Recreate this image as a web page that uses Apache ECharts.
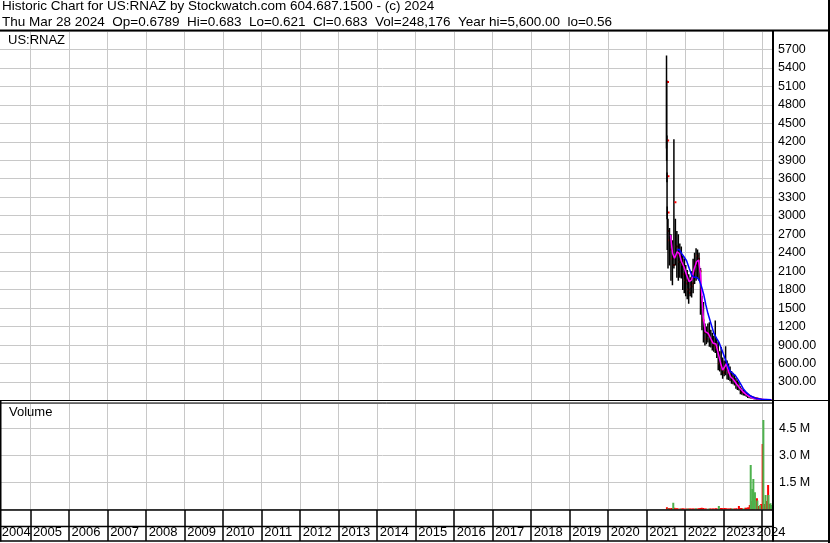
<!DOCTYPE html>
<html><head><meta charset="utf-8">
<script src="https://cdn.jsdelivr.net/npm/echarts@6/dist/echarts.min.js"></script>
<style>html,body{margin:0;padding:0;background:#fff;overflow:hidden;width:830px;height:543px;position:relative}
#c{position:absolute;left:-8px;top:0;width:838px;height:543px}</style>
</head><body><div id="c"></div>
<script>
// ---------- texts ----------
const titleLine1 = 'Historic Chart for US:RNAZ by Stockwatch.com 604.687.1500 - (c) 2024';
const titleLine2 = 'Thu Mar 28 2024  Op=0.6789  Hi=0.683  Lo=0.621  Cl=0.683  Vol=248,176  Year hi=5,600.00  lo=0.56';
const symbolLabel = 'US:RNAZ';
const volumeLabel = 'Volume';
const yearLabels = [2004,2005,2006,2007,2008,2009,2010,2011,2012,2013,2014,2015,2016,2017,2018,2019,2020,2021,2022,2023,2024];

// ---------- price bars (high / low / close) ----------
const priceDates = ['2021-07-08','2021-07-09','2021-07-12','2021-07-13','2021-07-15','2021-07-22','2021-08-05','2021-08-19','2021-09-02','2021-09-16','2021-09-30','2021-10-14','2021-10-28','2021-11-11','2021-11-25','2021-12-09','2021-12-23','2022-01-06','2022-01-20','2022-02-03','2022-02-17','2022-03-03','2022-03-17','2022-03-31','2022-04-14','2022-04-28','2022-05-12','2022-05-26','2022-06-09','2022-06-23','2022-07-07','2022-07-21','2022-08-04','2022-08-18','2022-09-01','2022-09-15','2022-09-29','2022-10-13','2022-10-27','2022-11-10','2022-11-24','2022-12-08','2022-12-22','2023-01-05','2023-01-19','2023-02-02','2023-02-16','2023-03-02','2023-03-16','2023-03-30','2023-04-13','2023-04-27','2023-05-11','2023-05-25','2023-06-08','2023-06-22','2023-07-06','2023-07-20','2023-08-03','2023-08-17','2023-08-31','2023-09-14','2023-09-28','2023-10-12','2023-10-26','2023-11-09','2023-11-23','2023-12-07','2023-12-21','2024-01-04','2024-01-18','2024-02-01','2024-02-15','2024-02-29','2024-03-14','2024-03-28'];
const priceHigh = [5600,5200,4300,3700,3150,2950,2800,2700,2600,4240,2950,2750,2700,2550,2500,2350,2300,2200,2120,2050,2000,2100,2300,2400,2470,2450,2400,2150,1700,1600,1250,1200,1250,1270,1150,1100,1050,1300,1000,950,800,870,700,650,880,650,600,550,480,450,420,370,330,300,230,200,170,150,130,110,95,80,70,60,50,40,32,25,18,12,8,5,3,2,1.2,0.683];
const priceLow = [4100,3900,3550,2950,2450,2150,2200,1950,1880,2150,2200,2000,1950,2000,1990,1800,1750,1700,1650,1580,1700,1680,1750,1900,1950,2000,1950,1400,1150,950,900,920,950,880,870,820,800,780,700,500,480,420,360,400,420,350,340,320,280,270,250,200,180,170,110,100,90,85,70,50,45,40,35,30,25,20,16,12,8,5,3,2,1.2,0.8,0.56,0.621];
const priceClose = [5170,4220,3640,3050,2750,2600,2450,2300,2200,3220,2500,2350,2250,2300,2200,2050,1950,1900,1800,1750,1850,1900,2100,2200,2350,2300,2100,1600,1300,1100,1000,1050,1100,1000,950,900,880,850,800,600,550,500,450,500,600,450,420,380,350,330,300,250,220,200,140,130,120,100,90,70,60,55,45,40,35,28,22,16,11,7,4,3,1.8,1.2,0.7,0.683];

// ---------- moving averages [date, value] ----------
const maShort = [['2021-08-15',2686],['2021-09-03',2389],['2021-09-22',2308],['2021-10-17',2415],['2021-11-05',2389],['2021-11-28',2253],['2021-12-20',2172],['2022-01-14',2037],['2022-02-08',1928],['2022-03-03',1956],['2022-03-24',2118],['2022-04-19',2253],['2022-05-08',2280],['2022-05-27',2037],['2022-06-08',1685],['2022-06-21',1360],['2022-07-10',1117],['2022-08-07',1090],['2022-08-30',1009],['2022-09-23',928],['2022-10-19',917],['2022-11-10',766],['2022-12-03',604],['2022-12-22',495],['2023-01-12',549],['2023-01-28',604],['2023-02-16',467],['2023-03-07',386],['2023-04-01',344],['2023-05-03',268],['2023-06-04',198],['2023-07-12',127],['2023-08-21',73],['2023-10-08',36],['2023-12-10',19],['2024-03-28',8]];
const maLong = [['2021-10-17',2443],['2021-11-05',2454],['2021-11-28',2389],['2021-12-20',2334],['2022-01-14',2269],['2022-02-08',2145],['2022-03-03',2037],['2022-03-24',2000],['2022-04-19',2000],['2022-05-14',1956],['2022-06-05',1847],['2022-06-27',1712],['2022-07-16',1550],['2022-08-04',1415],['2022-08-23',1307],['2022-09-11',1198],['2022-09-30',1090],['2022-10-26',1009],['2022-11-19',938],['2022-12-15',820],['2023-01-09',701],['2023-02-03',592],['2023-03-01',484],['2023-03-26',441],['2023-04-20',409],['2023-05-16',344],['2023-06-10',268],['2023-07-05',192],['2023-08-06',127],['2023-09-13',73],['2023-10-24',41],['2023-12-26',19],['2024-03-28',13]];

// ---------- volume, millions [date, value] ----------
const volumeUp = [['2021-07-22',0.06],['2021-09-10',0.38],['2021-11-15',0.05],['2022-01-25',0.05],['2022-04-12',0.07],['2022-08-10',0.05],['2022-11-16',0.2],['2023-03-20',0.06],['2023-07-10',0.06],['2023-09-14',2.47],['2023-09-29',1.14],['2023-10-09',1.69],['2023-10-24',0.95],['2023-11-16',0.5],['2023-12-12',0.25],['2024-01-12',4.96],['2024-02-02',0.8],['2024-02-29',0.8],['2024-03-20',0.34],['2024-03-27',0.25]];
const volumeDown = [['2021-07-12',0.12],['2021-07-29',0.08],['2021-08-12',0.07],['2021-08-26',0.08],['2021-09-20',0.1],['2021-10-01',0.07],['2021-10-15',0.07],['2021-10-29',0.06],['2021-11-24',0.06],['2021-12-08',0.07],['2021-12-22',0.06],['2022-01-10',0.06],['2022-02-01',0.06],['2022-02-15',0.05],['2022-03-01',0.06],['2022-03-15',0.05],['2022-03-29',0.06],['2022-04-26',0.06],['2022-05-10',0.07],['2022-05-24',0.08],['2022-06-07',0.1],['2022-06-21',0.08],['2022-07-05',0.06],['2022-07-19',0.06],['2022-08-24',0.06],['2022-09-07',0.05],['2022-09-21',0.05],['2022-10-05',0.06],['2022-10-19',0.07],['2022-11-02',0.06],['2022-11-30',0.08],['2022-12-14',0.09],['2022-12-28',0.07],['2023-01-11',0.08],['2023-01-25',0.07],['2023-02-08',0.06],['2023-02-22',0.06],['2023-03-08',0.07],['2023-04-05',0.06],['2023-04-19',0.06],['2023-05-03',0.07],['2023-05-25',0.2],['2023-06-07',0.08],['2023-06-21',0.08],['2023-07-25',0.1],['2023-08-08',0.1],['2023-08-22',0.12],['2023-09-05',0.25],['2023-09-27',0.47],['2023-10-18',0.8],['2023-11-12',0.62],['2023-11-28',0.2],['2023-12-22',0.3],['2024-01-05',3.63],['2024-01-22',0.3],['2024-02-06',0.47],['2024-02-26',1.36],['2024-03-12',0.3],['2024-03-25',0.2]];

// ---------- helpers ----------
function decYear(s){
  const p = s.split('-').map(Number);
  const a = Date.UTC(p[0],0,1), b = Date.UTC(p[0]+1,0,1);
  return p[0] + (Date.UTC(p[0],p[1]-1,p[2]) - a) / (b - a);
}
const OX = 8;                 // the canvas starts 8px left of the page edge
const X_MIN = 2004, X_MAX = 2024.28;
const FONT = '"Liberation Sans", Arial, sans-serif';
const GRID_GRAY = '#c8c8c8';

const barData = priceDates.map((d,i) => [decYear(d), priceHigh[i], priceLow[i], priceClose[i]]);
const maShortData = maShort.map(r => [decYear(r[0]), r[1]]);
const maLongData = maLong.map(r => [decYear(r[0]), r[1]]);
const volUpData = volumeUp.map(r => [decYear(r[0]), r[1]]);
const volDownData = volumeDown.map(r => [decYear(r[0]), r[1]]);
// label anchor positions inside each year cell (first/last squeezed into view)
const yearLabelPos = yearLabels.map(y => y === 2004 ? 2004.252 : (y === 2024 ? 2023.852 : y + 0.0675));

function renderBar(params, api){
  const x = api.value(0);
  const pH = api.coord([x, api.value(1)]);
  const pL = api.coord([x, api.value(2)]);
  const pC = api.coord([x, api.value(3)]);
  return {type:'group', children:[
    {type:'line', shape:{x1:pH[0], y1:pH[1], x2:pL[0], y2:pL[1]+0.5}, style:{stroke:'#000', lineWidth:1.5}},
    {type:'rect', shape:{x:pC[0]+0.5, y:pC[1]-1, width:2, height:2}, style:{fill:'#ff0000'}}
  ]};
}
function renderVol(color){
  return function(params, api){
    const x = api.value(0);
    const p = api.coord([x, api.value(1)]);
    const b = api.coord([x, 0]);
    return {type:'rect', shape:{x:p[0]-1, y:p[1], width:2, height:b[1]-p[1]}, style:{fill:color}};
  };
}
function xAxisBase(idx){
  return {type:'value', gridIndex:idx, min:X_MIN, max:X_MAX, interval:1,
    axisLine:{show:false}, axisTick:{show:false}, axisLabel:{show:false},
    splitLine:{show:true, lineStyle:{color:GRID_GRAY, width:1}}};
}
function hline(x1, x2, y, w){
  return {type:'line', z:100, silent:true, shape:{x1:x1+OX, y1:y, x2:x2+OX, y2:y}, style:{stroke:'#000', lineWidth:w}};
}
function vline(x, y1, y2, w){
  return {type:'line', z:100, silent:true, shape:{x1:x+OX, y1:y1, x2:x+OX, y2:y2}, style:{stroke:'#000', lineWidth:w}};
}
function label(text, x, y, size){
  return {type:'text', z:100, silent:true, x:x+OX, y:y, style:{text:text, font:size + 'px ' + FONT, fill:'#000', verticalAlign:'top'}};
}

const chart = echarts.init(document.getElementById('c'), null, {renderer:'canvas'});
const option = {
  animation:false,
  backgroundColor:'#fff',
  grid:[
    {left:0, right:57, top:31.5, bottom:142.5},
    {left:0, right:57, top:403, bottom:33.5},
    {left:0, right:57, top:510, bottom:2}
  ],
  xAxis:[
    xAxisBase(0),
    xAxisBase(1),
    {type:'value', gridIndex:2, min:X_MIN, max:X_MAX, interval:1,
      axisLine:{show:false}, axisTick:{show:false},
      splitLine:{show:true, lineStyle:{color:'#000', width:1.5}},
      axisLabel:{show:true, inside:true, margin:2, align:'left', customValues:yearLabelPos,
        hideOverlap:false, color:'#000', fontFamily:FONT, fontSize:13,
        formatter:v => String(Math.round(v))}}
  ],
  yAxis:[
    {type:'value', gridIndex:0, position:'right', min:0, max:5990, interval:300,
      axisLine:{show:false}, axisTick:{show:false},
      splitLine:{show:true, lineStyle:{color:GRID_GRAY, width:1}},
      axisLabel:{margin:5, color:'#000', fontFamily:FONT, fontSize:12.5, showMaxLabel:false,
        formatter:v => v === 0 ? '' : (v < 1000 ? v.toFixed(2) : String(v))}},
    {type:'value', gridIndex:1, position:'right', min:0, max:5.9, interval:1.5,
      axisLine:{show:false}, axisTick:{show:false},
      splitLine:{show:true, lineStyle:{color:GRID_GRAY, width:1}},
      axisLabel:{margin:6, color:'#000', fontFamily:FONT, fontSize:12.5, showMaxLabel:false,
        formatter:v => v === 0 ? '' : v.toFixed(1) + ' M'}},
    {type:'value', gridIndex:2, show:false, min:0, max:1}
  ],
  series:[
    {type:'custom', name:'Price', xAxisIndex:0, yAxisIndex:0, clip:true,
      renderItem:renderBar, encode:{x:0, y:[1,2,3]}, data:barData, silent:true},
    {type:'line', name:'MA short', xAxisIndex:0, yAxisIndex:0, data:maShortData,
      showSymbol:false, symbol:'none', lineStyle:{color:'#ff00ff', width:1.5}, silent:true},
    {type:'line', name:'MA long', xAxisIndex:0, yAxisIndex:0, data:maLongData,
      showSymbol:false, symbol:'none', lineStyle:{color:'#0000ff', width:1.5}, silent:true},
    {type:'custom', name:'Volume down', xAxisIndex:1, yAxisIndex:1, clip:true,
      renderItem:renderVol('#ff0000'), encode:{x:0, y:1}, data:volDownData, silent:true},
    {type:'custom', name:'Volume up', xAxisIndex:1, yAxisIndex:1, clip:true,
      renderItem:renderVol('#4db24d'), encode:{x:0, y:1}, data:volUpData, silent:true}
  ],
  graphic:[
    label(titleLine1, 2, -0.5, 13.5),
    label(titleLine2, 2, 15, 13.5),
    label(symbolLabel, 8, 34, 13),
    label(volumeLabel, 9, 406, 13),
    // frame
    hline(0, 830, 30.5, 2),
    vline(829, 0, 543, 2),
    vline(773, 30, 541.5, 2),
    hline(0, 830, 400.5, 1),
    hline(0, 773, 403, 1),
    hline(0, 773, 510, 1.5),
    hline(0, 773, 526.5, 1.5),
    hline(0, 830, 541, 1.5),
    vline(0.75, 400, 541.5, 1.5)
  ]
};
chart.setOption(option);
</script>
</body></html>
